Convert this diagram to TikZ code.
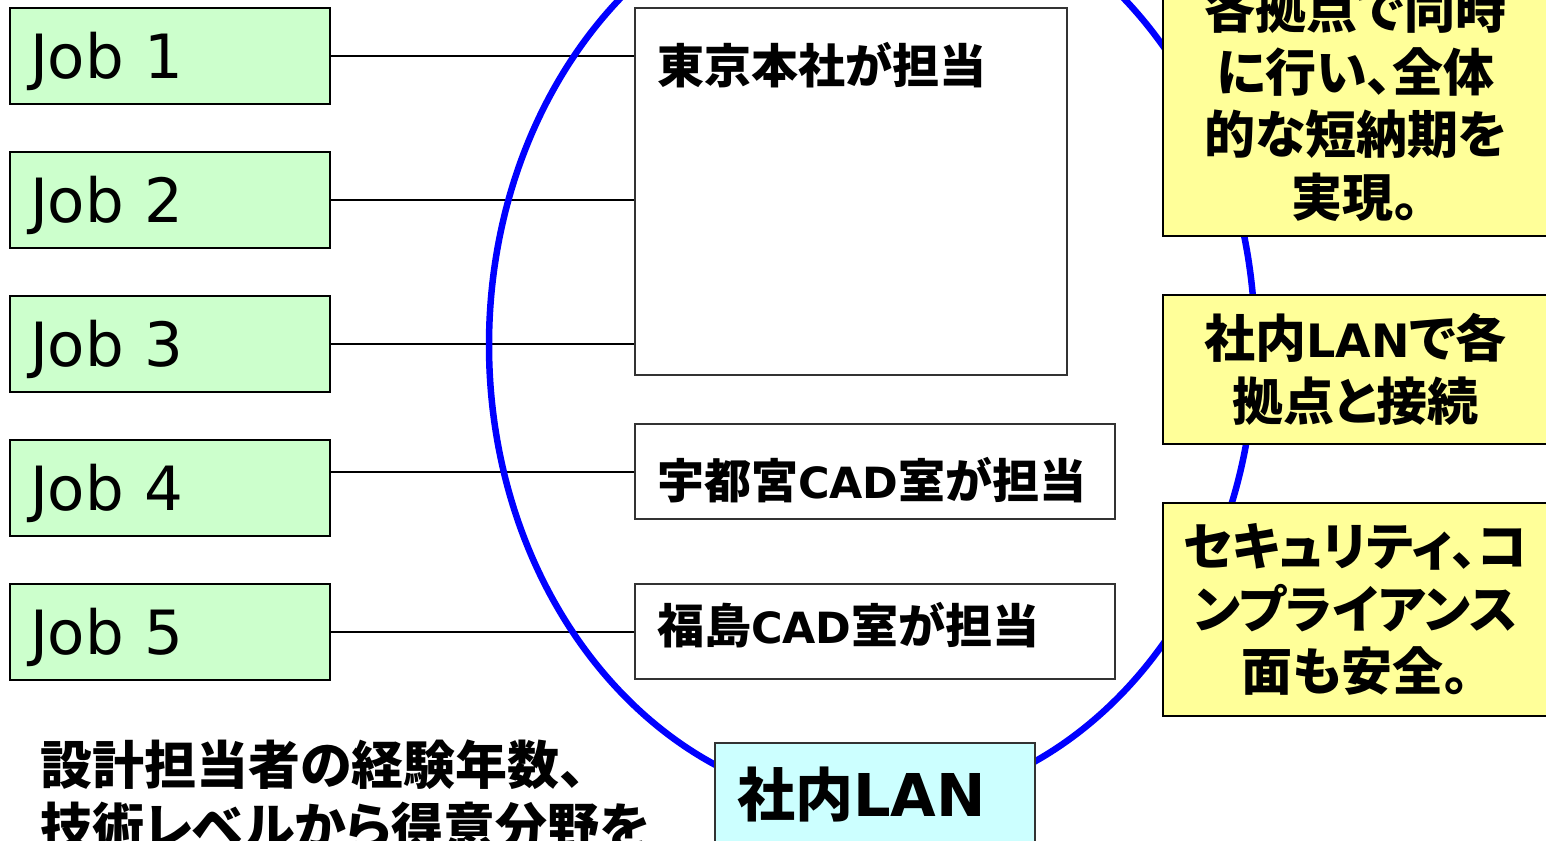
\documentclass[tikz,border=0pt]{standalone}
\usepackage{fontspec}
\setmainfont{Noto Sans CJK JP}[RawFeature=+palt]
\newfontfamily\lat{DejaVu Sans}
\usetikzlibrary{shapes.geometric}
\definecolor{jobgreen}{HTML}{CCFFCC}
\definecolor{noteyellow}{HTML}{FFFF99}
\definecolor{lancyan}{HTML}{CCFFFF}
\definecolor{netblue}{RGB}{0,0,255}
\newcommand{\mylower}[2]{\raisebox{-#1}[\height][\depth]{#2}}
\begin{document}
\begin{tikzpicture}[x=1pt,y=-1pt,
  jobbox/.style={draw=black, line width=1.5pt, fill=jobgreen, minimum width=320pt, minimum height=96pt,
    text width=280pt, inner xsep=20pt, align=left, font=\lat\fontsize{61}{72}\selectfont},
  sitebox/.style={draw=black!80, line width=1.5pt, fill=white},
  sitetext/.style={font=\fontsize{47}{56}\selectfont\bfseries, inner sep=0pt},
  notebox/.style={draw=black, line width=2pt, fill=noteyellow, minimum width=385pt, text width=370pt,
    align=center, inner sep=0pt, font=\fontsize{51}{62.5}\selectfont\bfseries},
  conn/.style={draw=black, line width=2pt},
  net/.style={ellipse, draw=netblue, line width=6.5pt, inner sep=0pt}
]
\useasboundingbox (0,0) rectangle (1546,840);
\fill[white] (0,0) rectangle (1546,840);

% jobs
\node[jobbox] (j1) at (170,56) {\mylower{5pt}{Job 1}};
\node[jobbox] (j2) at (170,200) {\mylower{5pt}{Job 2}};
\node[jobbox] (j3) at (170,344) {\mylower{5pt}{Job 3}};
\node[jobbox] (j4) at (170,488) {\mylower{5pt}{Job 4}};
\node[jobbox] (j5) at (170,632) {\mylower{5pt}{Job 5}};

% connector end points on the site boxes
\coordinate (tkw) at (635,0);
\coordinate (utw) at (635,471.5);
\coordinate (fkw) at (635,631.5);

% connectors
\draw[conn] (j1.east) -- (j1.east -| tkw);
\draw[conn] (j2.east) -- (j2.east -| tkw);
\draw[conn] (j3.east) -- (j3.east -| tkw);
\draw[conn] (utw -| j4.east) -- (utw);
\draw[conn] (j5.east) -- (j5.east -| fkw);

% network ellipse
\node[net, minimum width=766pt, minimum height=920pt] (lan) at (872,345) {};

% site boxes
\node[sitebox, minimum width=432pt, minimum height=367pt] (tk) at (851,191.5) {};
\node[sitetext, anchor=west] (tkt) at (657,65) {東京本社が担当};
\node[sitebox, minimum width=480pt, minimum height=95pt, text width=436pt, inner xsep=22pt, align=left,
  font=\fontsize{47}{56}\selectfont\bfseries] (ut) at (875,471.5)
  {\mylower{9pt}{宇都宮{\lat\bfseries\fontsize{43}{56}\selectfont CAD}室が担当}};
\node[sitebox, minimum width=480pt, minimum height=95pt, text width=436pt, inner xsep=22pt, align=left,
  font=\fontsize{47}{56}\selectfont\bfseries] (fk) at (875,631.5)
  {\mylower{-6pt}{福島{\lat\bfseries\fontsize{43}{56}\selectfont CAD}室が担当}};

% notes
\node[notebox, minimum height=266pt] (n1) at (1355.5,103) {各拠点で同時\\に行い、全体\\的な短納期を\\実現。};
\node[notebox, minimum height=149pt] (n2) at (1355.5,369.5) {社内{\lat\bfseries\fontsize{46}{62}\selectfont LAN}で各\\拠点と接続};
\node[notebox, minimum height=213pt] (n3) at (1355.5,609.5) {セキュリティ、コ\\ンプライアンス\\面も安全。};

% LAN box
\node[draw=black!80, line width=1.5pt, fill=lancyan, minimum width=320pt, minimum height=104pt,
  text width=276pt, inner xsep=22pt, align=left, font=\fontsize{58}{66}\selectfont\bfseries]
  (lanbox) at (875,795) {社内{\lat\bfseries\fontsize{59}{66}\selectfont LAN}};

% bottom-left note
\node[anchor=base west, inner sep=0pt, align=left, font=\fontsize{52}{62}\selectfont\bfseries]
  (desc) at (40,846) {設計担当者の経験年数、\\技術レベルから得意分野を};
\end{tikzpicture}
\end{document}
